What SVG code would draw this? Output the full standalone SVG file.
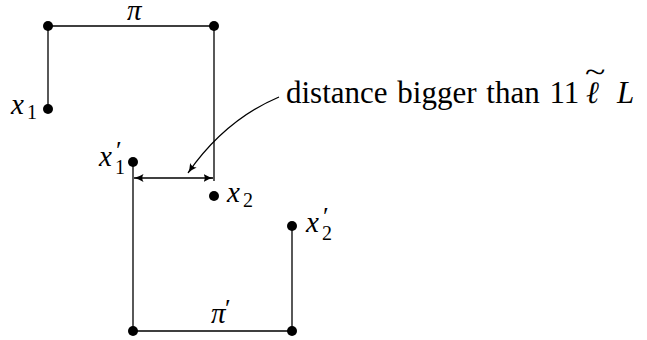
<svg xmlns="http://www.w3.org/2000/svg" width="647" height="340" viewBox="0 0 647 340">
<defs>
<marker id="ah" viewBox="0 0 10 10" refX="9.5" refY="5" markerWidth="10" markerHeight="10" markerUnits="userSpaceOnUse" orient="auto-start-reverse">
<path d="M0,1 Q5,4.2 10,5 Q5,5.8 0,9 Q2.5,5 0,1Z" fill="#000"/>
</marker>
</defs>
<g id="connectors" stroke="#000" stroke-width="1.3" fill="none">
<path d="M48,109 V26 H214 V181"/>
<path d="M133,162 V331 H292 V225"/>
<line x1="134" y1="178" x2="213" y2="178" marker-start="url(#ah)" marker-end="url(#ah)"/>
<path d="M279,97 Q225,120 188,173" marker-end="url(#ah)"/>
</g>
<g id="p1"><circle cx="48" cy="26" r="5"/></g>
<g id="p2"><circle cx="214" cy="26" r="5"/></g>
<g id="x1"><circle cx="48" cy="109" r="5"/><text font-family="Liberation Serif" font-style="italic" font-size="29" x="11" y="114">x</text><text font-family="Liberation Serif" font-size="20" x="27" y="119">1</text></g>
<g id="x1p"><circle cx="133" cy="162" r="5"/><text font-family="Liberation Serif" font-style="italic" font-size="29" x="99" y="166">x</text><text font-family="Liberation Serif" font-size="26" x="116" y="159">′</text><text font-family="Liberation Serif" font-size="20" x="115" y="174">1</text></g>
<g id="x2"><circle cx="214" cy="196" r="5"/><text font-family="Liberation Serif" font-style="italic" font-size="29" x="227" y="202">x</text><text font-family="Liberation Serif" font-size="20" x="243" y="207">2</text></g>
<g id="x2p"><circle cx="292" cy="226" r="5"/><text font-family="Liberation Serif" font-style="italic" font-size="29" x="306" y="232">x</text><text font-family="Liberation Serif" font-size="26" x="323" y="225">′</text><text font-family="Liberation Serif" font-size="20" x="322" y="240">2</text></g>
<g id="p3"><circle cx="133" cy="331" r="5"/></g>
<g id="p4"><circle cx="292" cy="331" r="5"/></g>
<g id="labels">
<text font-family="Liberation Serif" font-style="italic" font-size="29" x="127" y="20">π</text>
<text font-family="Liberation Serif" font-style="italic" font-size="29" x="211" y="323">π</text><text font-family="Liberation Serif" font-size="26" x="225" y="317">′</text>
<text font-family="Liberation Serif" font-size="31" word-spacing="2" x="286" y="103">distance bigger than 11</text>
<text font-family="Liberation Serif" font-style="italic" font-size="31" x="586" y="103">ℓ</text>
<text font-family="Liberation Serif" font-size="29" transform="translate(585,82) scale(1.3,1)" x="0" y="0">~</text>
<text font-family="Liberation Serif" font-style="italic" font-size="31" x="617" y="103">L</text>
</g>
</svg>
